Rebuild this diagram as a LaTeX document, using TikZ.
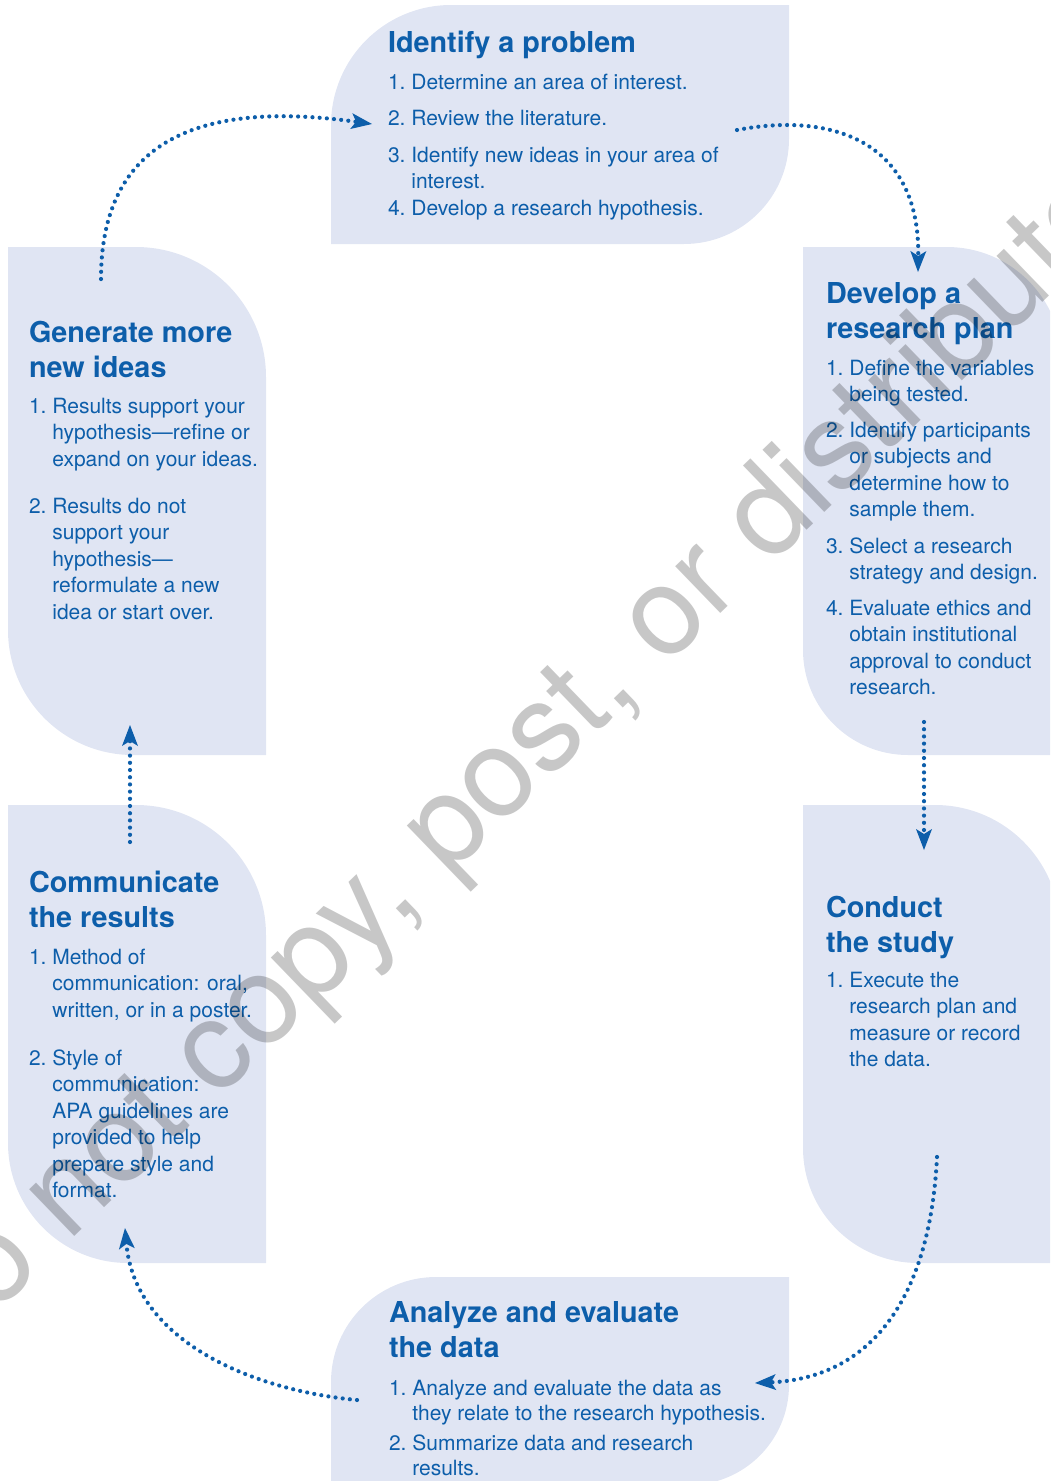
\documentclass[tikz,border=0pt]{standalone}
\usepackage{fontspec}
\setmainfont{TeX Gyre Heros}
\usetikzlibrary{arrows.meta}
\definecolor{boxfill}{HTML}{E0E5F3}
\definecolor{txtblue}{HTML}{0D5EAA}
\newcommand{\itm}[2]{\begin{tabular}[t]{@{}l@{\ }l@{}}#1&#2\end{tabular}}
\newcommand{\ttl}[1]{\begin{tabular}[t]{@{}l@{}}#1\end{tabular}}
% box with rounded top-right and bottom-left corners: x1,y1,x2,y2,Rtr,Rbl
\newcommand{\leafTRBL}[6]{%
  \fill[boxfill] (#1,#2) -- ({#3-#5},#2) .. controls ({#3-0.4477*#5},#2) and (#3,{#2+0.4477*#5}) .. (#3,{#2+#5})
    -- (#3,#4) -- ({#1+#6},#4) .. controls ({#1+0.4477*#6},#4) and (#1,{#4-0.4477*#6}) .. (#1,{#4-#6}) -- cycle;}
% box with rounded top-left and bottom-right corners: x1,y1,x2,y2,Rtl,Rbr
\newcommand{\leafTLBR}[6]{%
  \fill[boxfill] ({#1+#5},#2) -- (#3,#2) -- (#3,{#4-#6}) .. controls (#3,{#4-0.4477*#6}) and ({#3-0.4477*#6},#4) .. ({#3-#6},#4)
    -- (#1,#4) -- (#1,{#2+#5}) .. controls (#1,{#2+0.4477*#5}) and ({#1+0.4477*#5},#2) .. ({#1+#5},#2) -- cycle;}
\begin{document}
\begin{tikzpicture}[x=1pt,y=-1pt,
  body/.style={anchor=base west, inner sep=0pt, outer sep=0pt, text=txtblue, font=\fontsize{21}{26.5}\selectfont},
  bodyc/.style={body, font=\fontsize{21}{25.5}\selectfont},
  head/.style={anchor=base west, inner sep=0pt, outer sep=0pt, text=txtblue, font=\fontsize{28.8}{35}\selectfont\bfseries},
  flow/.style={draw=txtblue, line width=4.2pt, line cap=round, dash pattern=on 0pt off 7.2pt,
    -{Stealth[length=21pt,width=16pt,inset=5pt,line width=0pt]}},
  wmark/.style={text=black, text opacity=0.22, anchor=base west, inner sep=0pt, rotate=44,
    font=\fontsize{124}{124}\selectfont}
  ]
\useasboundingbox (0,0) rectangle (1050,1481);
\clip (0,0) rectangle (1050,1481);

% boxes
\leafTLBR{331}{5}{789}{244}{120}{105}
\leafTRBL{8}{247}{266}{755}{130}{125}
\leafTRBL{803}{247}{1062}{755}{115}{105}
\leafTRBL{8}{805}{266}{1263}{130}{120}
\leafTRBL{803}{805}{1060}{1263}{125}{115}
\leafTLBR{331}{1277}{789}{1485}{105}{100}

% Identify a problem
\node[head] (idT) at (388,52) {Identify a problem};
\node[body] (id1) at (388,89) {\itm{1.}{Determine an area of interest.}};
\node[body] (id2) at (388,125) {\itm{2.}{Review the literature.}};
\node[body] (id3) at (388,162) {\itm{3.}{Identify new ideas in your area of\\&interest.}};
\node[body] (id4) at (388,215) {\itm{4.}{Develop a research hypothesis.}};

% Develop a research plan
\node[head] (dvT) at (826,303) {\ttl{Develop a\\research plan}};
\node[body] (dv1) at (826,375) {\itm{1.}{Define the variables\\&being tested.}};
\node[body] (dv2) at (826,437) {\itm{2.}{Identify participants\\&or subjects and\\&determine how to\\&sample them.}};
\node[body] (dv3) at (826,553) {\itm{3.}{Select a research\\&strategy and design.}};
\node[body] (dv4) at (826,615) {\itm{4.}{Evaluate ethics and\\&obtain institutional\\&approval to conduct\\&research.}};

% Generate more new ideas
\node[head] (gnT) at (29,342) {\ttl{Generate more\\new ideas}};
\node[body] (gn1) at (29,413) {\itm{1.}{Results support your\\&hypothesis---refine or\\&expand on your ideas.}};
\node[body] (gn2) at (29,513) {\itm{2.}{Results do not\\&support your\\&hypothesis---\\&reformulate a new\\&idea or start over.}};

% Communicate the results
\node[head] (cmT) at (29,892) {\ttl{Communicate\\the results}};
\node[body] (cm1) at (29,964) {\itm{1.}{Method of\\&communication: oral,\\&written, or in a poster.}};
\node[body] (cm2) at (29,1065) {\itm{2.}{Style of\\&communication:\\&APA guidelines are\\&provided to help\\&prepare style and\\&format.}};

% Conduct the study
\node[head] (cdT) at (826,917) {\ttl{Conduct\\the study}};
\node[body] (cd1) at (826,987) {\itm{1.}{Execute the\\&research plan and\\&measure or record\\&the data.}};

% Analyze and evaluate the data
\node[head] (anT) at (389,1322) {\ttl{Analyze and evaluate\\the data}};
\node[bodyc] (an1) at (389,1395) {\itm{1.}{Analyze and evaluate the data as\\&they relate to the research hypothesis.}};
\node[bodyc] (an2) at (389,1450) {\itm{2.}{Summarize data and research\\&results.}};

% connectors
\coordinate (a1s) at (101,279);  \coordinate (a1e) at (372,124);
\coordinate (a2s) at (737,130);  \coordinate (a2e) at (918,272);
\coordinate (a3s) at (924,722);  \coordinate (a3e) at (924,850);
\coordinate (a4s) at (937,1157); \coordinate (a4e) at (755,1383);
\coordinate (a5s) at (357,1400); \coordinate (a5e) at (125,1228);
\coordinate (a6s) at (130,842);  \coordinate (a6e) at (130,725);
\draw[flow] (a1s) .. controls (101,140) and (200,100) .. (a1e);
\draw[flow] (a2s) .. controls (830,112) and (920,140) .. (a2e);
\draw[flow] (a3s) -- (a3e);
\draw[flow] (a4s) .. controls (930,1300) and (870,1378) .. (a4e);
\draw[flow] (a5s) .. controls (250,1390) and (135,1340) .. (a5e);
\draw[flow] (a6s) -- (a6e);

% watermark
\node[wmark] (wm) at (-70,1377) {Do not copy, post, or distribute};
\end{tikzpicture}
\end{document}
